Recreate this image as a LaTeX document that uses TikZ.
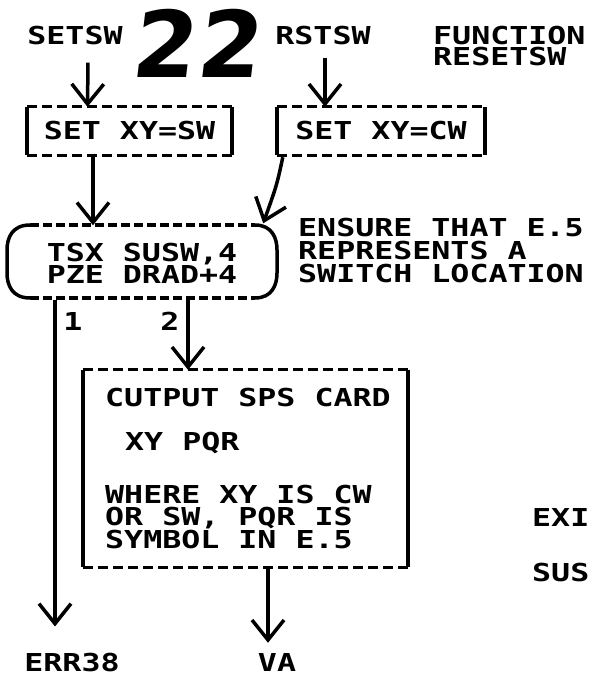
\documentclass[tikz,border=0pt]{standalone}
\usepackage{fontspec}
\setmainfont{DejaVu Sans Mono}[FakeStretch=1.28]
\newfontfamily\handfont{DejaVu Sans}[FakeSlant=0.12]
\usetikzlibrary{arrows.meta,calc}
\tikzset{
  lbl/.style={font=\fontsize{24.7}{22.5}\selectfont\bfseries, inner sep=0pt, align=left},
  arr/.style={line width=3.5pt, -{Straight Barb[length=20pt,width=32pt,line width=3.5pt]}},
  sol/.style={line width=3.5pt},
  dsh/.style={line width=3pt, dash pattern=on 10pt off 5pt},
  boxn/.style={inner sep=0pt, draw=none},
}
\newcommand{\edgesof}[1]{%
  \draw[dsh] (#1.north west) -- (#1.north east);
  \draw[dsh] (#1.south west) -- (#1.south east);
  \draw[sol] (#1.north west) -- (#1.south west);
  \draw[sol] (#1.north east) -- (#1.south east);}
\begin{document}
\begin{tikzpicture}[x=1pt,y=-1pt]
\useasboundingbox (0,0) rectangle (589,676);

% top labels
\node[lbl] (setsw) at (75,36) {SETSW};
\node[font=\handfont\fontsize{92}{92}\selectfont\bfseries, inner sep=0pt] (num) at (195,43) {22};
\node[lbl] (rstsw) at (323,36) {RSTSW};
\node[lbl, anchor=west, font=\fontsize{24.7}{21}\selectfont\bfseries] (func) at (433,46.5) {FUNCTION\\RESETSW};

% boxes
\node[boxn, lbl, minimum width=205, minimum height=48] (b1) at (129.5,131) {SET XY=SW};
\edgesof{b1}
\node[boxn, lbl, minimum width=208, minimum height=48] (b2) at (381,131) {SET XY=CW};
\edgesof{b2}

% oval
\node[boxn, lbl, align=center, minimum width=270, minimum height=73, font=\fontsize{24.7}{22}\selectfont\bfseries] (ov) at (142,263) {TSX SUSW,4\\PZE DRAD+4};
\draw[dsh, line width=4pt, dash pattern=on 9pt off 4pt] (30,225) -- (255,225);
\draw[dsh, line width=4pt, dash pattern=on 9pt off 4pt] (30,298) -- (255,298);
\draw[sol] (30,225) .. controls (12,225) and (7,238) .. (7,250) -- (7,273) .. controls (7,285) and (12,298) .. (30,298);
\draw[sol] (255,225) .. controls (272,225) and (277,238) .. (277,250) -- (277,273) .. controls (277,285) and (272,298) .. (255,298);

\node[lbl, anchor=west, font=\fontsize{24.7}{23}\selectfont\bfseries] (ensure) at (298,251) {ENSURE THAT E.5\\REPRESENTS A\\SWITCH LOCATION};

\node[lbl] (one) at (73,321) {1};
\node[lbl] (two) at (170,321) {2};

% output box
\node[boxn, minimum width=325, minimum height=197] (b3) at (245.5,468.5) {};
\edgesof{b3}
\node[lbl, anchor=west] (t1) at (105,398) {CUTPUT SPS CARD};
\node[lbl, anchor=west] (t2) at (125,443) {XY PQR};
\node[lbl, anchor=west, font=\fontsize{24.7}{21.5}\selectfont\bfseries] (t3) at (105,517) {WHERE XY IS CW\\OR SW, PQR IS\\SYMBOL IN E.5};

\node[lbl, anchor=west] (exi) at (532,517) {EXI};
\node[lbl, anchor=west] (sus) at (532,573) {SUS};

\node[lbl] (err) at (72,662) {ERR38};
\node[lbl] (va) at (277,662) {VA};

% connectors
\draw[arr] ($(setsw.south)+(13,17)$) -- ($(b1.north)+(-42,0)$);
\draw[arr] ($(rstsw.south)+(2,12)$) -- ($(b2.north)+(-56,0)$);
\draw[arr] ($(b1.south)+(-36.5,0)$) -- ($(ov.north)+(-49,-1)$);
\draw[arr] ($(b2.south west)+(6,2)$) .. controls ($(b2.south west)+(0,30)$) .. ($(ov.north east)+(-14,-3)$);
\draw[arr] ($(ov.south)+(-87,0)$) -- ($(err.north)+(-17,-26)$);
\draw[arr] ($(ov.south)+(46,0)$) -- ($(b3.north)+(-57.5,0)$);
\draw[arr] ($(b3.south)+(22.5,0)$) -- ($(va.north)+(-9,-10)$);
\end{tikzpicture}
\end{document}
